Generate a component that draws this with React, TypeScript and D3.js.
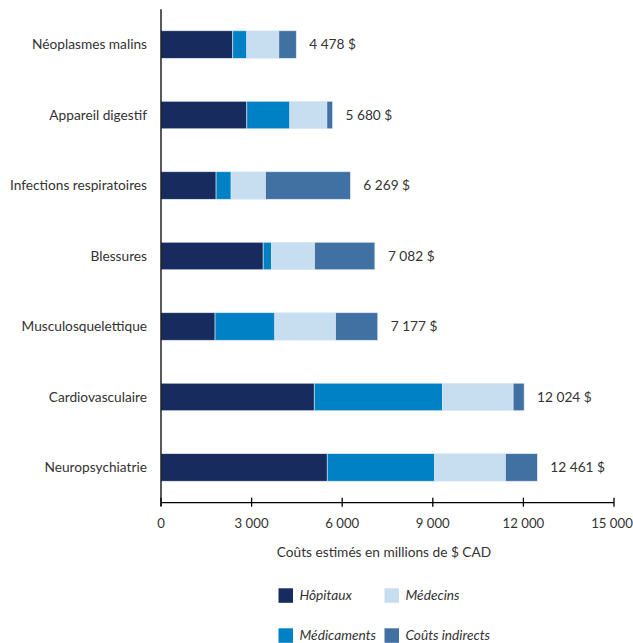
import React from 'react'
import * as d3 from 'd3'

const categories = [
  'Néoplasmes malins',
  'Appareil digestif',
  'Infections respiratoires',
  'Blessures',
  'Musculosquelettique',
  'Cardiovasculaire',
  'Neuropsychiatrie'
]

const seriesNames = ['Hôpitaux', 'Médicaments', 'Médecins', 'Coûts indirects']

const hopitaux = [2377, 2842, 1824, 3383, 1790, 5074, 5504]
const medicaments = [465, 1425, 497, 277, 1980, 4243, 3561]
const medecins = [1061, 1227, 1141, 1426, 2012, 2344, 2341]
const indirects = [575, 186, 2807, 1996, 1395, 363, 1055]
const totals = [4478, 5680, 6269, 7082, 7177, 12024, 12461]

const xTicks = [0, 3000, 6000, 9000, 12000, 15000]

const colors = ['#172b5e', '#0081c6', '#c7def1', '#4171a3']

const fontFamily = 'Lato, "Open Sans", sans-serif'
const textColor = '#333'

const locale = d3.formatLocale({
  decimal: ',',
  thousands: ' ',
  grouping: [3],
  currency: ['', ' $']
})
const fmt = locale.format(',d')

const App = () => {
  const width = 633
  const height = 643

  const x = d3.scaleLinear().domain([0, 15000]).range([161, 614])
  const y = d3
    .scaleBand()
    .domain(categories)
    .range([9.3, 502.7])
    .paddingInner(0.61)
    .paddingOuter(0.305)

  const rows = categories.map((c, i) => ({
    cat: c,
    'Hôpitaux': hopitaux[i],
    'Médicaments': medicaments[i],
    'Médecins': medecins[i],
    'Coûts indirects': indirects[i]
  }))

  const stacked = d3.stack().keys(seriesNames)(rows as any)

  const axisY = 502.7

  // legend layout: two columns, two rows
  const legend = [
    { name: 'Hôpitaux', color: colors[0], lx: 278.5, ly: 588.3 },
    { name: 'Médecins', color: colors[2], lx: 384.5, ly: 588.3 },
    { name: 'Médicaments', color: colors[1], lx: 278.5, ly: 628.3 },
    { name: 'Coûts indirects', color: colors[3], lx: 384.5, ly: 628.3 }
  ]

  return (
    <svg
      width={width}
      height={height}
      style={{ position: 'absolute', left: 0, top: 0, background: '#fff' }}
    >
      <g className="bars">
        {stacked.map((layer, si) =>
          layer.map((d, i) => (
            <rect
              key={`${si}-${i}`}
              x={x(d[0])}
              y={y(categories[i])}
              width={x(d[1]) - x(d[0])}
              height={y.bandwidth()}
              fill={colors[si]}
              stroke="#dfe9f3"
              strokeWidth={0.6}
            />
          ))
        )}
      </g>

      {categories.map((c, i) => (
        <text
          key={c}
          x={147}
          y={y(c)! + y.bandwidth() / 2}
          dy="0.35em"
          textAnchor="end"
          fontFamily={fontFamily}
          fontSize={13.7}
          fill={textColor}
        >
          {c}
        </text>
      ))}

      {totals.map((t, i) => (
        <text
          key={i}
          x={x(t) + 13}
          y={y(categories[i])! + y.bandwidth() / 2}
          dy="0.35em"
          fontFamily={fontFamily}
          fontSize={13.7}
          fill={textColor}
        >
          {fmt(t)} $
        </text>
      ))}

      {/* axes */}
      <line x1={161} x2={161} y1={9.3} y2={506} stroke="#000" strokeWidth={1.3} />
      <line x1={161} x2={614} y1={axisY} y2={axisY} stroke="#000" strokeWidth={1.3} />
      {xTicks.map((t) => (
        <g key={t}>
          <line x1={x(t)} x2={x(t)} y1={axisY - 5} y2={axisY + 4} stroke="#000" strokeWidth={1.3} />
          <text
            x={t === 15000 ? x(t) - 2 : x(t)}
            y={523}
            dy="0.35em"
            textAnchor="middle"
            fontFamily={fontFamily}
            fontSize={13.2}
            fill={textColor}
          >
            {fmt(t)}
          </text>
        </g>
      ))}
      <text
        x={384}
        y={552}
        dy="0.35em"
        textAnchor="middle"
        fontFamily={fontFamily}
        fontSize={13.7}
        fill={textColor}
      >
        Coûts estimés en millions de $ CAD
      </text>

      {legend.map((l) => (
        <g key={l.name}>
          <rect x={l.lx} y={l.ly} width={14.5} height={14.5} fill={l.color} />
          <text
            x={l.lx + 21}
            y={l.ly + 12}
            fontFamily={fontFamily}
            fontSize={13.7}
            fontStyle="italic"
            fill={textColor}
          >
            {l.name}
          </text>
        </g>
      ))}
    </svg>
  )
}

export default App
